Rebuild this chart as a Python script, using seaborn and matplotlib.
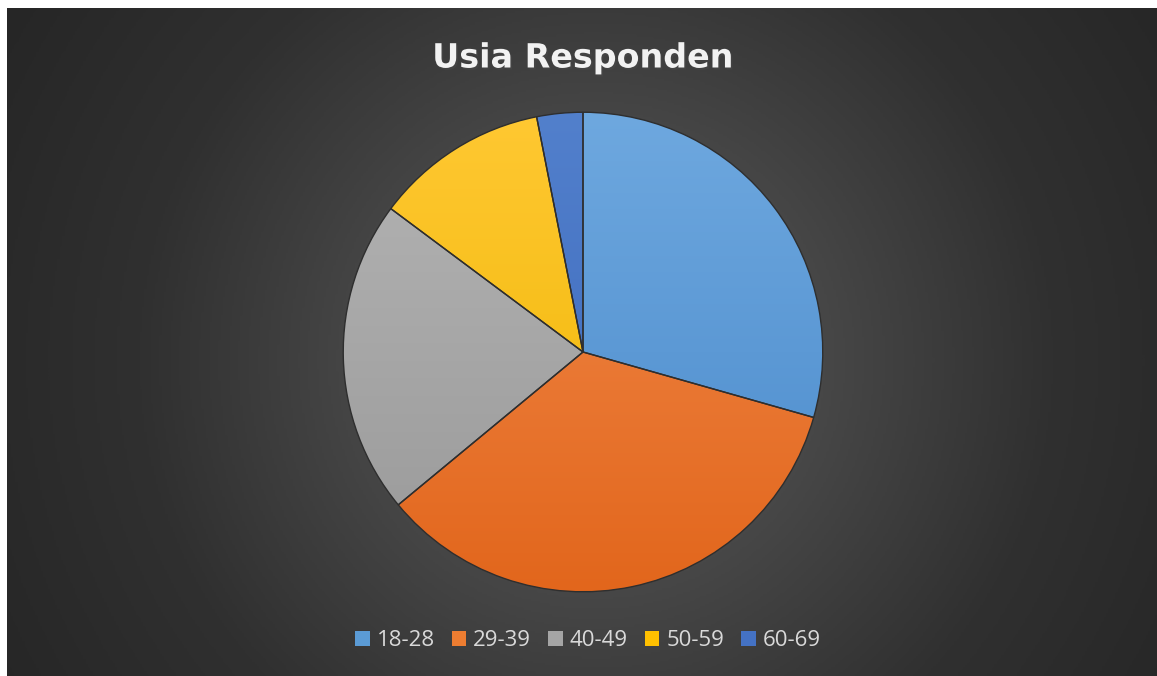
import numpy as np
import matplotlib
matplotlib.use("Agg")
import matplotlib.pyplot as plt
import seaborn as sns
from matplotlib.colors import LinearSegmentedColormap
import matplotlib.patheffects as pe
from matplotlib.patches import Patch

sns.set_theme(style="white")
plt.rcParams['font.family'] = ['Open Sans', 'DejaVu Sans']

# ---- data ----
categories = ["18-28", "29-39", "40-49", "50-59", "60-69"]
shares = [29.4, 34.6, 21.2, 11.7, 3.1]
title = "Usia Responden"

base_colors = ["#5B9BD5", "#ED7D31", "#A5A5A5", "#FFC000", "#4472C4"]
top_colors = ["#6EA8DF", "#F28C4E", "#B4B4B4", "#FFC832", "#5280CC"]
bot_colors = ["#4A8ACB", "#E2661C", "#999999", "#EEB500", "#3A66BA"]

W, H = 1157, 676
fig = plt.figure(figsize=(W / 100, H / 100), dpi=100, facecolor="white")

# background with radial gradient (white margin only at left and top)
bg = fig.add_axes([7 / W, -0.02, (W - 7) / W + 0.02, (H - 8) / H + 0.02])
bg.set_axis_off()
ny, nx = 300, 500
yy, xx = np.mgrid[0:ny, 0:nx]
cx, cy = (583 - 7) / (W - 7) * nx, (352 - 8) / (H - 8) * ny
aspect = (H - 8) / (W - 7)
r = np.sqrt(((xx - cx) / nx) ** 2 + ((yy - cy) / ny * aspect) ** 2)
r = r / r.max()
bgcmap = LinearSegmentedColormap.from_list("bg", ["#585858", "#474747", "#303030", "#262626"])
bg.imshow(r, cmap=bgcmap, aspect="auto", extent=(0, 1, 0, 1), origin="upper", vmin=0, vmax=1)
bg.set_xlim(0, 1)
bg.set_ylim(0, 1)

# pie axes
R = 240
ax = fig.add_axes([(583 - R) / W, 1 - (352 + R) / H, 2 * R / W, 2 * R / H])
ax.set_axis_off()
wedges, _ = ax.pie(shares, colors=base_colors, startangle=90, counterclock=False,
                   radius=1.0,
                   wedgeprops=dict(edgecolor="#2E2E2E", linewidth=1.0))
grad = np.linspace(0, 1, 256).reshape(-1, 1)
for w, tc, bc in zip(wedges, top_colors, bot_colors):
    cm = LinearSegmentedColormap.from_list("g", [bc, tc])
    im = ax.imshow(grad, cmap=cm, extent=(-1, 1, -1, 1), origin="lower",
                   aspect="auto", zorder=2)
    im.set_clip_path(w)
    w.set_facecolor("none")
    w.set_zorder(3)
ax.set_xlim(-1.001, 1.001)
ax.set_ylim(-1.001, 1.001)

# title
fig.text(583 / W, 1 - 58 / H, title, ha="center", va="center", fontsize=24,
         fontweight="bold", color="#F2F2F2", family=["DejaVu Sans"],
         path_effects=[pe.SimplePatchShadow(offset=(1.2, -1.5), alpha=0.5), pe.Normal()])

# legend
handles = [Patch(facecolor=c, edgecolor="none") for c in base_colors]
leg = fig.legend(handles, categories, loc="center", bbox_to_anchor=(588 / W, 1 - 641 / H),
                 ncol=5, frameon=False, fontsize=16, handlelength=0.65, handleheight=0.65,
                 handletextpad=0.3, columnspacing=0.78, labelcolor="#D9D9D9")

fig.savefig("out.png", dpi=100, facecolor="white")
